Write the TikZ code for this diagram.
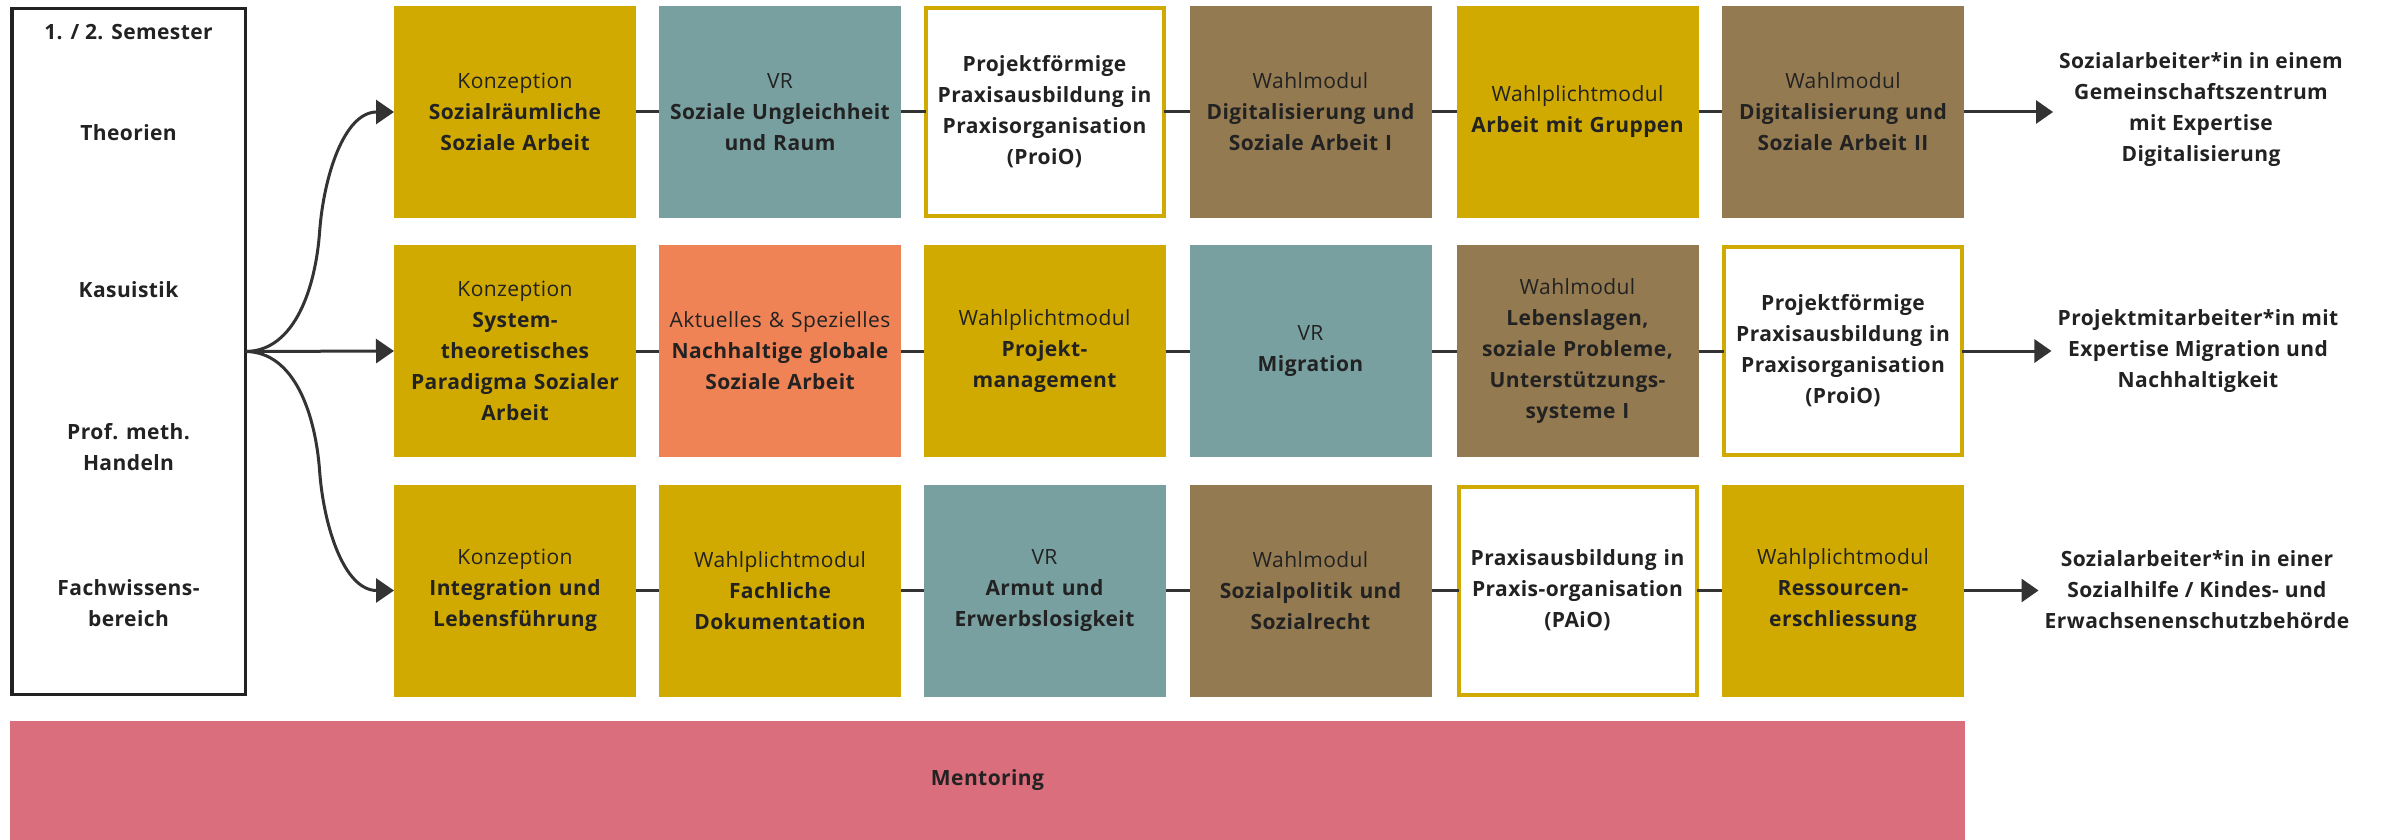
\documentclass[tikz,border=0pt]{standalone}
\usepackage{fontspec}
\setmainfont{Open Sans}[LetterSpace=2]
\usetikzlibrary{arrows.meta,calc}

\definecolor{ink}{HTML}{222222}
\definecolor{wire}{HTML}{333333}
\definecolor{mustard}{HTML}{D0AA00}
\definecolor{teal}{HTML}{79A0A1}
\definecolor{brownish}{HTML}{947A50}
\definecolor{coral}{HTML}{F08356}
\definecolor{rose}{HTML}{DA6E7C}

\begin{document}
\begin{tikzpicture}[x=1pt,y=-1pt,
  every node/.style={font=\fontsize{21}{31}\selectfont, text=ink},
  modbox/.style={minimum width=242pt, minimum height=212pt, inner sep=0pt,
    outer sep=0pt, align=center, text width=238pt},
  konz/.style={modbox, fill=mustard},
  vr/.style={modbox, fill=teal},
  wahl/.style={modbox, fill=brownish},
  aktuell/.style={modbox, fill=coral},
  praxis/.style={modbox, fill=white, draw=mustard, line width=4pt,
    minimum width=238pt, minimum height=208pt},
  lbl/.style={align=center, font=\fontsize{21}{31}\selectfont\bfseries},
  goal/.style={align=center, inner sep=6pt, font=\fontsize{21}{31}\selectfont\bfseries},
  link/.style={draw=wire, line width=3pt},
  fan/.style={draw=wire, line width=3pt, -{Triangle[length=18pt,width=24pt]}},
  outarrow/.style={draw=wire, line width=3pt, -{Triangle[length=17pt,width=23pt]}}
]
\fill[white] (0,0) rectangle (2381,840);
\useasboundingbox (0,0) rectangle (2381,840);

% semester column on the left
\node[draw=ink, line width=3.5pt, minimum width=233.5pt, minimum height=685.5pt,
      inner sep=0pt, outer sep=0pt] (sem) at (128.5,351.5) {};
\node[lbl] (semhead) at (128.5,32) {1. / 2. Semester};
\node[lbl] (theo) at (128.5,133) {Theorien};
\node[lbl] (kasu) at (128.5,290) {Kasuistik};
\node[lbl] (prof) at (128.5,447.5) {Prof. meth.\\Handeln};
\node[lbl] (fach) at (128.5,603.5) {Fachwissens-\\bereich};

% row 1
\node[konz] (r1c1) at (515,112) {Konzeption\\\bfseries Sozialräumliche\\Soziale Arbeit};
\node[vr] (r1c2) at (780,112) {VR\\\bfseries Soziale Ungleichheit\\und Raum};
\node[praxis] (r1c3) at (1044.5,112) {\bfseries Projektförmige\\Praxisausbildung in\\Praxisorganisation\\(ProiO)};
\node[wahl] (r1c4) at (1310.5,112) {Wahlmodul\\\bfseries Digitalisierung und\\Soziale Arbeit I};
\node[konz] (r1c5) at (1577.5,112) {Wahlplichtmodul\\\bfseries Arbeit mit Gruppen};
\node[wahl] (r1c6) at (1843,112) {Wahlmodul\\\bfseries Digitalisierung und\\Soziale Arbeit II};
\node[goal] (out1) at (2201,110) {Sozialarbeiter*in in einem\\Gemeinschaftszentrum\\mit Expertise\\Digitalisierung};

% row 2
\node[konz] (r2c1) at (515,351) {Konzeption\\\bfseries System-\\theoretisches\\Paradigma Sozialer\\Arbeit};
\node[aktuell] (r2c2) at (780,351) {Aktuelles \& Spezielles\\\bfseries Nachhaltige globale\\Soziale Arbeit};
\node[konz] (r2c3) at (1044.5,351) {Wahlplichtmodul\\\bfseries Projekt-\\management};
\node[vr] (r2c4) at (1310.5,351) {VR\\\bfseries Migration};
\node[wahl] (r2c5) at (1577.5,351) {Wahlmodul\\\bfseries Lebenslagen,\\soziale Probleme,\\Unterstützungs-\\systeme I};
\node[praxis] (r2c6) at (1843,351) {\bfseries Projektförmige\\Praxisausbildung in\\Praxisorganisation\\(ProiO)};
\node[goal] (out2) at (2198,351) {Projektmitarbeiter*in mit\\Expertise Migration und\\Nachhaltigkeit};

% row 3
\node[konz] (r3c1) at (515,590.5) {Konzeption\\\bfseries Integration und\\Lebensführung};
\node[konz] (r3c2) at (780,590.5) {Wahlplichtmodul\\\bfseries Fachliche\\Dokumentation};
\node[vr] (r3c3) at (1044.5,590.5) {VR\\\bfseries Armut und\\Erwerbslosigkeit};
\node[wahl] (r3c4) at (1310.5,590.5) {Wahlmodul\\\bfseries Sozialpolitik und\\Sozialrecht};
\node[praxis] (r3c5) at (1577.5,590.5) {\bfseries Praxisausbildung in\\Praxis-organisation\\(PAiO)};
\node[konz] (r3c6) at (1843,590.5) {Wahlplichtmodul\\\bfseries Ressourcen-\\erschliessung};
\node[goal] (out3) at (2197,590) {Sozialarbeiter*in in einer\\Sozialhilfe / Kindes- und\\Erwachsenenschutzbehörde};

% mentoring band
\node[fill=rose, minimum width=1955pt, minimum height=119pt, inner sep=0pt,
      font=\fontsize{21}{31}\selectfont\bfseries] (ment) at (987.5,780.5) {Mentoring};

% fan from the semester column into the three rows
\coordinate (m1) at ($(sem.east)!0.5!(r1c1.west)$);
\coordinate (m3) at ($(sem.east)!0.5!(r3c1.west)$);
\draw[fan] (sem.east) .. controls +(50,0) and +(-4,55) .. (m1)
                      .. controls +(4,-55) and +(-50,0) .. (r1c1.west);
\draw[fan] (sem.east) -- (r2c1.west);
\draw[fan] (sem.east) .. controls +(50,0) and +(-4,-55) .. (m3)
                      .. controls +(4,55) and +(-50,0) .. (r3c1.west);

% links along each row
\foreach \r in {1,2,3}{
  \draw[link] (r\r c1) -- (r\r c2);
  \draw[link] (r\r c2) -- (r\r c3);
  \draw[link] (r\r c3) -- (r\r c4);
  \draw[link] (r\r c4) -- (r\r c5);
  \draw[link] (r\r c5) -- (r\r c6);
}

% arrows to the career outcomes
\draw[outarrow] (r1c6.east) -- (r1c6.east -| out1.west);
\draw[outarrow] (r2c6.east) -- (r2c6.east -| out2.west);
\draw[outarrow] (r3c6.east) -- (r3c6.east -| out3.west);
\end{tikzpicture}
\end{document}
